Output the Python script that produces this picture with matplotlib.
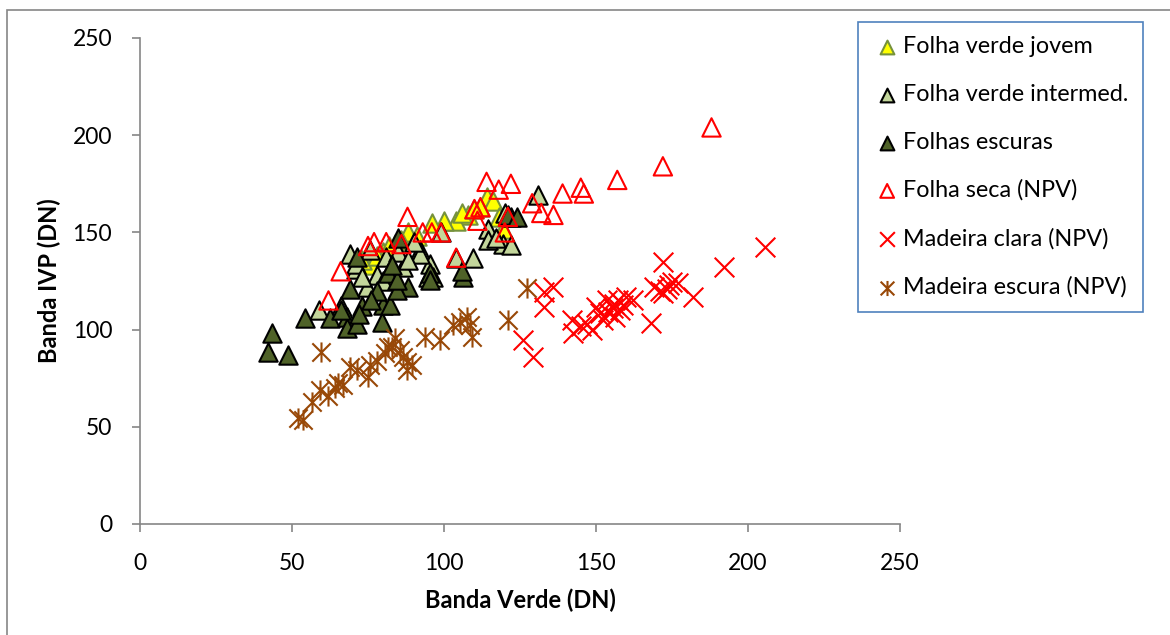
import matplotlib.pyplot as plt
from matplotlib.path import Path
from matplotlib.patches import Rectangle

plt.rcParams['font.family'] = ['Lato', 'DejaVu Sans']

# Folha verde jovem
jovem_x = [114, 116, 112, 108, 104, 100, 96, 106, 110, 88, 86, 84, 80, 76, 73, 91, 118, 82, 78, 119.5]
jovem_y = [168, 166, 163, 159, 156, 156, 155, 160, 162, 150, 146, 144, 140, 133, 136, 148, 158, 143, 138, 152]

# Folha verde intermed.
inter_x = [131, 122, 120, 119.5, 122, 114.5, 114.5, 109.5, 99, 92, 95.5, 96.5, 86.5, 81, 71, 75.7, 69, 71,
           74.6, 59, 78, 92, 94.7, 85, 88, 104, 117, 90, 80, 66, 73]
inter_y = [169, 158, 160, 144, 143.5, 152, 146, 137, 150, 141, 134, 127, 132, 137.5, 131, 141, 139, 134,
           122, 110, 128, 139, 127, 140, 136, 137, 147, 145, 125, 112, 127]

# Folhas escuras
escuras_x = [43.4, 42, 48.7, 54.3, 62.5, 68, 68, 71.3, 73, 69, 79.5, 80, 82.2, 81.7, 88.3, 95.4, 95.4, 77.8,
             84.4, 106.4, 106, 121, 124, 71.3, 84.4, 72, 76, 85, 83, 66]
escuras_y = [98, 88.5, 87, 106, 106, 106.6, 100.6, 103, 112, 121, 104, 112.6, 112.6, 129, 122, 129, 125.5, 120,
             120.4, 127, 130, 159, 158, 137.5, 125.5, 108, 115, 147, 133, 110]

# Folha seca (NPV)
seca_x = [188, 172, 157, 145, 146, 139, 136, 132, 129, 122, 118, 114, 110, 112, 111, 121, 120, 88, 93, 96,
          99, 77, 81, 75, 86, 66, 104, 62]
seca_y = [204, 184, 177, 173, 170, 170, 159, 160, 165, 175, 172, 176, 162, 163, 156, 158, 150, 158, 150, 150,
          150, 145, 145, 143, 144, 130, 137, 115]

# Madeira clara (NPV)
clara_x = [172, 192, 205.6, 182, 168, 169, 172, 175, 174, 177, 136, 133, 133, 126, 129.4, 142, 142.5, 148.6,
           150, 152.4, 153.5, 155.7, 157.3, 159, 160, 162.3, 156.3, 151.3, 154, 158, 171, 173.5, 145, 147, 156]
clara_y = [134.6, 132.4, 142.6, 117, 103.2, 122, 118.7, 124.6, 123, 124, 122, 119.5, 111.8, 94.6, 86, 105, 98,
           99.8, 111.8, 105, 115, 111, 115.2, 112.6, 117, 115, 106.6, 108.4, 109, 110, 120, 121, 102, 103, 113]

# Madeira escura (NPV)
escura_x = [52, 53.7, 56.5, 59.2, 59.5, 64.1, 65.2, 66.9, 69, 71.3, 75.1, 75.7, 80.6, 81.7, 83.9, 85.5, 86.6,
            87.7, 89.4, 87.7, 93.75, 98.7, 103, 105.3, 107.5, 108.6, 109.1, 121.2, 127.2, 83, 78, 62]
escura_y = [54.4, 53.5, 62.9, 69, 88.6, 69.8, 72.4, 71.5, 81, 79.2, 75.8, 81.8, 87.8, 91.2, 95.5, 89.5, 86,
            79.2, 81.8, 83.5, 96.3, 94.6, 102.4, 104, 106.6, 102.4, 96.3, 105, 121.2, 91, 84, 66]

# excel style asterisk: x plus vertical bar
star = Path([(-1, -1), (1, 1), (-1, 1), (1, -1), (0, -1.1), (0, 1.1)],
            [Path.MOVETO, Path.LINETO, Path.MOVETO, Path.LINETO, Path.MOVETO, Path.LINETO])

fig = plt.figure(figsize=(11.7, 6.35), dpi=100)
ax = fig.add_axes([140 / 1170, 1 - 524 / 635, 760 / 1170, 486 / 635])

tri = 175
ax.scatter(jovem_x, jovem_y, s=tri, marker='^', facecolor='#FFFF00', edgecolor='#76923C', linewidth=1.5,
           label='Folha verde jovem', zorder=3)
ax.scatter(inter_x, inter_y, s=tri, marker='^', facecolor='#C3D69B', edgecolor='black', linewidth=1.5,
           label='Folha verde intermed.', zorder=4)
ax.scatter(escuras_x, escuras_y, s=tri, marker='^', facecolor='#4F6228', edgecolor='black', linewidth=1.5,
           label='Folhas escuras', zorder=5)
ax.scatter(seca_x, seca_y, s=tri, marker='^', facecolor='none', edgecolor='#FF0000', linewidth=1.5,
           label='Folha seca (NPV)', zorder=6)
ax.scatter(clara_x, clara_y, s=200, marker='x', color='#FF0000', linewidth=1.5,
           label='Madeira clara (NPV)', zorder=7)
ax.scatter(escura_x, escura_y, s=210, marker=star, color='#984807', linewidth=1.5,
           label='Madeira escura (NPV)', zorder=8)

ax.set_xlim(0, 250)
ax.set_ylim(0, 250)
ax.set_xticks(range(0, 251, 50))
ax.set_yticks(range(0, 251, 50))
for s in ['top', 'right']:
    ax.spines[s].set_visible(False)
for s in ['left', 'bottom']:
    ax.spines[s].set_color('#868686')
    ax.spines[s].set_linewidth(1.2)
ax.tick_params(direction='out', length=6, width=1.2, color='#868686', labelsize=16.5)
ax.tick_params(axis='x', pad=15)
ax.tick_params(axis='y', pad=14)
ax.set_xlabel('Banda Verde (DN)', fontsize=17, fontweight='bold', labelpad=10)
ax.set_ylabel('Banda IVP (DN)', fontsize=17, fontweight='bold', labelpad=8)

leg = ax.legend(loc='upper left', bbox_to_anchor=(858 / 1170, 1 - 22 / 635), bbox_transform=fig.transFigure,
                fontsize=16.8, labelspacing=1.15, handletextpad=0.05, handlelength=1.3, borderpad=0.6,
                fancybox=False, framealpha=1, markerscale=0.75, borderaxespad=0)
leg.get_frame().set_edgecolor('#4F81BD')
leg.get_frame().set_linewidth(1.2)

fig.patches.append(Rectangle((7 / 1170, -20 / 635), 1200 / 1170, 645 / 635, transform=fig.transFigure,
                             fill=False, edgecolor='#868686', linewidth=1.2))

fig.savefig('out.png', dpi=100)
